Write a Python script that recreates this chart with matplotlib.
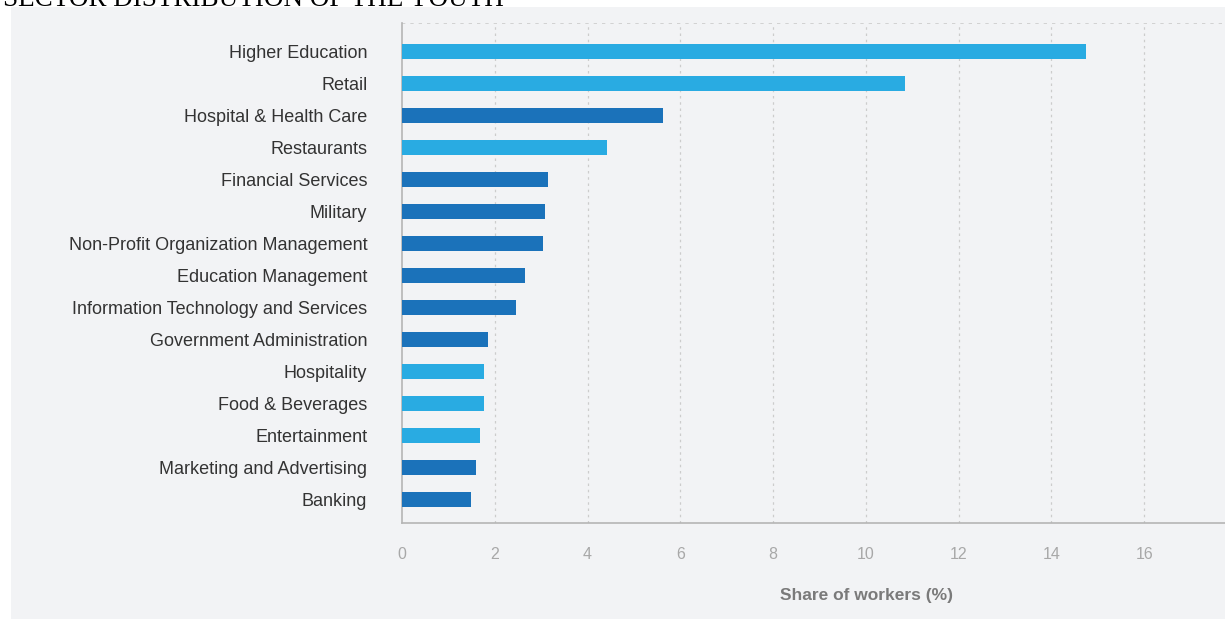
import matplotlib
matplotlib.use("Agg")
import matplotlib.pyplot as plt
from matplotlib.patches import Rectangle

categories = ["Higher Education", "Retail", "Hospital & Health Care", "Restaurants",
              "Financial Services", "Military", "Non-Profit Organization Management",
              "Education Management", "Information Technology and Services",
              "Government Administration", "Hospitality", "Food & Beverages",
              "Entertainment", "Marketing and Advertising", "Banking"]
values = [14.74, 10.84, 5.63, 4.42, 3.15, 3.08, 3.04, 2.65, 2.46, 1.85, 1.77, 1.77, 1.68, 1.59, 1.49]
group = ["light", "light", "dark", "light", "dark", "dark", "dark", "dark", "dark",
         "dark", "light", "light", "light", "dark", "dark"]
xticks = [0, 2, 4, 6, 8, 10, 12, 14, 16]

colors = {"light": "#29abe2", "dark": "#1b72ba"}
bg = "#f2f3f5"

fig = plt.figure(figsize=(12.25, 6.19), dpi=100, facecolor="white")
bgpatch = Rectangle((11 / 1225, 0), 1 - 11 / 1225, 1 - 7 / 619,
                    transform=fig.transFigure, facecolor=bg, edgecolor="none", zorder=-10)
fig.patches.append(bgpatch)
fig.text(3 / 1225, 1 - 6 / 619, "SECTOR DISTRIBUTION OF THE YOUTH", family="Liberation Serif",
         fontsize=19.5, color="black", va="baseline", ha="left")

ax = fig.add_axes([402 / 1225, 1 - 523 / 619, 1 - 402 / 1225, (523 - 23) / 619])
ax.set_zorder(1)
ax.set_facecolor(bg)
ypos = list(range(len(categories)))
ax.barh(ypos, values, height=0.47, color=[colors[g] for g in group], zorder=3)
ax.set_ylim(14.72, -0.9)
ax.set_xlim(0, 17.74)
ax.set_yticks(ypos)
ax.set_yticklabels(categories, family="Liberation Sans", fontsize=13, color="#333333")
ax.set_xticks(xticks)
ax.set_xticklabels([str(t) for t in xticks], family="Liberation Sans", fontsize=11.5, color="#a8a8a8")
ax.tick_params(axis="y", length=0, pad=25)
ax.tick_params(axis="x", length=0, pad=17)
for t in xticks[1:]:
    ax.axvline(t, color="#cccccc", linestyle=(0, (2, 3)), linewidth=0.9, zorder=1)
ax.axhline(-0.9, color="#cccccc", linestyle=(0, (2, 3)), linewidth=1.2, zorder=1)
for s in ["top", "right"]:
    ax.spines[s].set_visible(False)
for s in ["left", "bottom"]:
    ax.spines[s].set_color("#b5b5b5")
    ax.spines[s].set_linewidth(1.2)
ax.set_xlabel("Share of workers (%)", family="Liberation Sans", fontsize=12.5,
              fontweight="bold", color="#7a7a7a")
ax.xaxis.set_label_coords((867 - 402) / (1225 - 402), -(588 - 523) / 500, transform=ax.transAxes)

fig.savefig("out.png", dpi=100, facecolor="white")
